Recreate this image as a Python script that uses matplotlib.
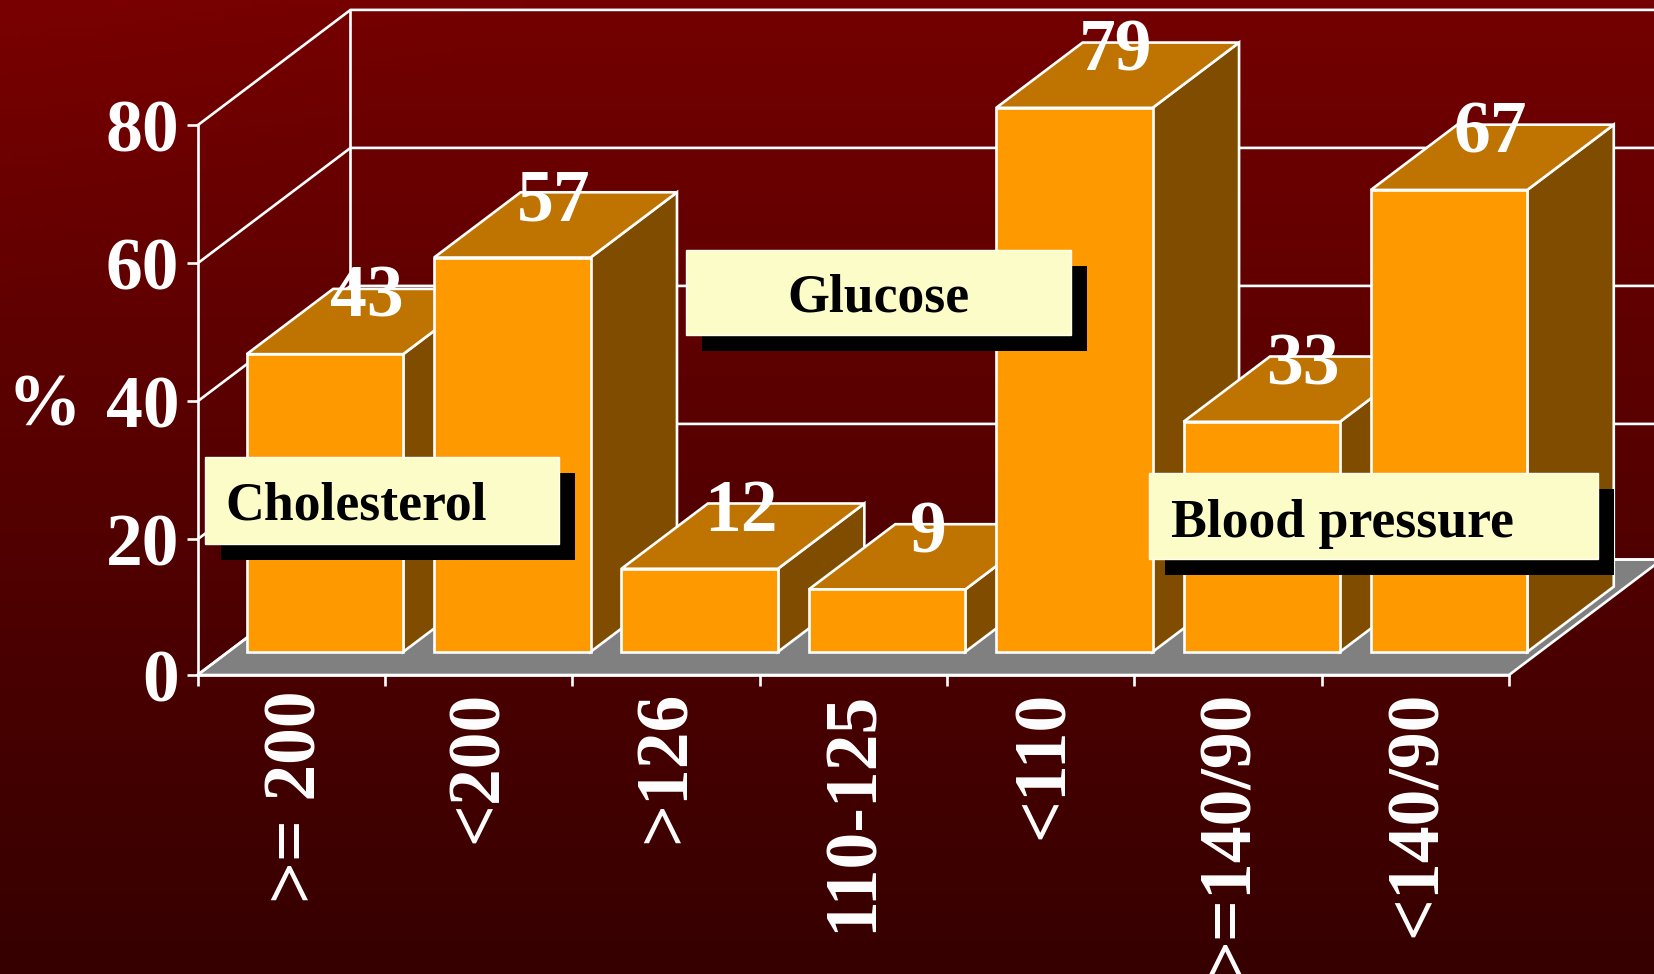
import numpy as np
import matplotlib
matplotlib.use("Agg")
import matplotlib.pyplot as plt
from matplotlib.patches import Polygon, Rectangle
from matplotlib.transforms import ScaledTranslation

plt.rcParams['font.family'] = ['Liberation Serif', 'DejaVu Serif']
plt.rcParams['font.weight'] = 'bold'

# ---- data ----
categories = [">= 200", "<200", ">126", "110-125", "<110", ">=140/90", "<140/90"]
values = [43, 57, 12, 9, 79, 33, 67]
heights = [43.5, 57.5, 12.4, 9.4, 79.2, 33.7, 67.3]
y_ticks = [0, 20, 40, 60, 80]
group_names = ["Cholesterol", "Glucose", "Blood pressure"]

W, H = 1654, 974
LEFT, RIGHT, BOTTOM, TOP = 197.5, 1509, 675, 125.4   # front plane in pixels
Y0 = 0.35                                            # level of the floor on the value scale
DEPTH_X = 153 / ((RIGHT - LEFT) / 7)                 # depth vector in data units
DEPTH_Y = 115.5 / ((BOTTOM - TOP) / (80 - Y0))
BAR_W, BAR_D0, BAR_D, BAR_SHIFT = 0.835, 0.2, 0.565, 0.017

FRONT, ROOF, SIDE = "#FF9900", "#BF7300", "#804D00"
FLOOR, BOX, LINE = "#808080", "#FCFCC8", "white"
LW = 1.9

fig = plt.figure(figsize=(W / 100, H / 100), dpi=100)

# background gradient
bg = fig.add_axes([0, 0, 1, 1], zorder=0)
yy, xx = np.mgrid[0:1:256j, 0:1:256j]
shade = 0x74 - (0x74 - 0x36) * yy + 6 * np.clip(1 - (xx * 3 + yy * 3), 0, 1)
img = np.zeros((256, 256, 3))
img[..., 0] = shade / 255
bg.imshow(img, extent=[0, 1, 0, 1], aspect='auto', origin='upper')
bg.axis('off')

ax = fig.add_axes([LEFT / W, 1 - BOTTOM / H, (RIGHT - LEFT) / W, (BOTTOM - TOP) / H], zorder=1)
ax.patch.set_alpha(0)
n = len(categories)
ax.set_xlim(0, n)
ax.set_ylim(Y0, y_ticks[-1])
tick_pos = [Y0 if v == 0 else v for v in y_ticks]


def proj(x, y, d):
    return (x + d * DEPTH_X, y + d * DEPTH_Y)


def poly(pts, fc, z):
    ax.add_patch(Polygon(pts, closed=True, fc=fc, ec=LINE, lw=LW, clip_on=False,
                         joinstyle='miter', zorder=z))


# floor
poly([proj(0, Y0, 0), proj(n, Y0, 0), proj(n, Y0, 1), proj(0, Y0, 1)], FLOOR, 1)

# walls and grid
for v in tick_pos:
    ax.plot(*zip(proj(0, v, 0), proj(0, v, 1), proj(n, v, 1)), color=LINE, lw=LW,
            clip_on=False, zorder=1.5, solid_joinstyle='miter')
ax.plot(*zip(proj(0, Y0, 1), proj(0, y_ticks[-1], 1)), color=LINE, lw=LW, clip_on=False, zorder=1.5)

# bars
for i, h in enumerate(heights):
    c = i + 0.5 + BAR_SHIFT
    x0, x1 = c - BAR_W / 2, c + BAR_W / 2
    d0, d1 = BAR_D0, BAR_D0 + BAR_D
    z = 2 + i * 0.1
    poly([proj(x1, Y0, d0), proj(x1, Y0, d1), proj(x1, h, d1), proj(x1, h, d0)], SIDE, z)
    poly([proj(x0, h, d0), proj(x1, h, d0), proj(x1, h, d1), proj(x0, h, d1)], ROOF, z)
    poly([proj(x0, Y0, d0), proj(x1, Y0, d0), proj(x1, h, d0), proj(x0, h, d0)], FRONT, z)

# value labels
for i, (h, v) in enumerate(zip(heights, values)):
    ax.text(*proj(i + 0.5 + 0.238, h + 5.4, BAR_D0), str(v), color='white', fontsize=53,
            ha='center', va='baseline', zorder=5)

# axes furniture
for s in ['top', 'right']:
    ax.spines[s].set_visible(False)
for s in ['left', 'bottom']:
    ax.spines[s].set_color(LINE)
    ax.spines[s].set_linewidth(LW)
    ax.spines[s].set_zorder(1.8)
ax.set_yticks(tick_pos)
ax.set_yticklabels([str(v) for v in y_ticks], color='white', fontsize=53)
ax.tick_params(axis='y', colors=LINE, length=8, width=LW, pad=5)
ax.set_xticks(np.arange(n + 1))
ax.set_xticklabels([])
ax.tick_params(axis='x', which='major', colors=LINE, length=8, width=LW)
ax.set_xticks(np.arange(n) + 0.5, minor=True)
ax.set_xticklabels(categories, minor=True, rotation=90, color='white', fontsize=53, ha='center', va='top')
ax.tick_params(axis='x', which='minor', length=0, pad=11)
label_nudge = [6, 0, 1, 0, 4, 2, 2]
for lab, dx in zip(ax.get_xticklabels(minor=True), label_nudge):
    lab.set_transform(lab.get_transform() + ScaledTranslation(dx * 1.05 / 100, 0, fig.dpi_scale_trans))
ax.set_ylabel('%', rotation=0, color='white', fontsize=53, fontweight='bold', ha='center', va='center')
ax.yaxis.set_label_coords((44 - LEFT) / (RIGHT - LEFT), (BOTTOM - 408) / (BOTTOM - TOP))

# group boxes (pixel layout)
ov = fig.add_axes([0, 0, 1, 1], zorder=3)
ov.set_xlim(0, W)
ov.set_ylim(H, 0)
ov.axis('off')
ov.patch.set_alpha(0)
boxes = [(205, 457, 354, 87), (686, 250, 385, 85), (1149, 473, 449, 86)]
text_pos = [(225, 520), (787, 312), (1171, 537)]
for name, (bx, by, bw, bh), (tx, ty) in zip(group_names, boxes, text_pos):
    ov.add_patch(Rectangle((bx + 16, by + 16), bw, bh, fc='black', ec='none'))
    ov.add_patch(Rectangle((bx, by), bw, bh, fc=BOX, ec='#FFFFF0', lw=1))
    ov.text(tx, ty, name, color='black', fontsize=38.7, ha='left', va='baseline')

fig.savefig("out.png", dpi=100)
